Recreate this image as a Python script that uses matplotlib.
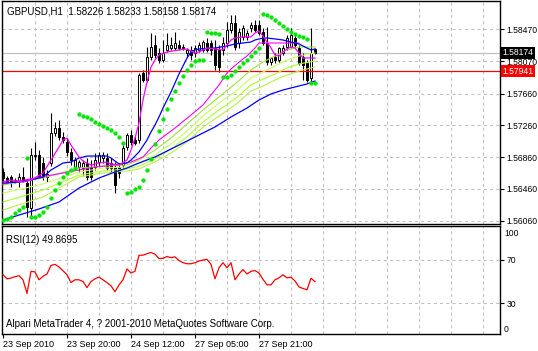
import matplotlib
matplotlib.use("Agg")
import matplotlib.pyplot as plt
import matplotlib.transforms as mtransforms
import numpy as np

plt.rcParams['font.family'] = ['Liberation Sans', 'DejaVu Sans']

# GBPUSD H1 bars (open, high, low, close)
opens = [1.56673, 1.56597, 1.56610, 1.56572, 1.56559, 1.56610, 1.56534, 1.56219, 1.56887, 1.56887,
         1.56786, 1.56610, 1.56786, 1.57164, 1.57227, 1.57114, 1.57051, 1.56925, 1.56736, 1.56736,
         1.56723, 1.56786, 1.56736, 1.56736, 1.56799, 1.56849, 1.56849, 1.56786, 1.56736, 1.56736,
         1.56761, 1.56988, 1.57139, 1.57076, 1.57076, 1.57920, 1.57832, 1.58122, 1.58273, 1.58172,
         1.58084, 1.58210, 1.58235, 1.58235, 1.58273, 1.58248, 1.58172, 1.58210, 1.58172, 1.58210,
         1.58210, 1.58298, 1.58298, 1.58235, 1.58210, 1.58210, 1.58298, 1.58462, 1.58550, 1.58298,
         1.58374, 1.58374, 1.58487, 1.58525, 1.58525, 1.58437, 1.58298, 1.58059, 1.58122, 1.58084,
         1.58172, 1.58248, 1.58248, 1.58361, 1.58235, 1.58122, 1.58046, 1.57857, 1.58226]
highs = [1.56723, 1.56622, 1.56635, 1.56597, 1.56660, 1.56736, 1.56585, 1.56975, 1.57051, 1.56950,
         1.56862, 1.56698, 1.57416, 1.57303, 1.57328, 1.57177, 1.57101, 1.56975, 1.56862, 1.56824,
         1.56824, 1.56849, 1.56824, 1.56912, 1.56925, 1.56925, 1.56912, 1.56849, 1.56799, 1.56786,
         1.57013, 1.57164, 1.57202, 1.57126, 1.57920, 1.57958, 1.58248, 1.58424, 1.58399, 1.58235,
         1.58336, 1.58424, 1.58374, 1.58437, 1.58336, 1.58286, 1.58235, 1.58260, 1.58273, 1.58311,
         1.58336, 1.58361, 1.58336, 1.58336, 1.58273, 1.58374, 1.58563, 1.58651, 1.58651, 1.58487,
         1.58525, 1.58462, 1.58563, 1.58588, 1.58588, 1.58487, 1.58500, 1.58122, 1.58172, 1.58248,
         1.58273, 1.58399, 1.58487, 1.58399, 1.58273, 1.58172, 1.58084, 1.58487, 1.58233]
lows = [1.56547, 1.56534, 1.56484, 1.56534, 1.56484, 1.56547, 1.56106, 1.56106, 1.56824, 1.56597,
        1.56572, 1.56547, 1.56748, 1.57126, 1.57076, 1.57038, 1.56874, 1.56761, 1.56698, 1.56673,
        1.56635, 1.56572, 1.56572, 1.56698, 1.56748, 1.56786, 1.56698, 1.56673, 1.56408, 1.56597,
        1.56723, 1.56950, 1.57013, 1.57013, 1.57038, 1.57807, 1.57807, 1.58084, 1.58109, 1.58046,
        1.58059, 1.58185, 1.58210, 1.58210, 1.58210, 1.58210, 1.58122, 1.58084, 1.58122, 1.58185,
        1.58185, 1.58185, 1.58147, 1.57958, 1.57933, 1.58147, 1.58248, 1.58424, 1.58210, 1.58235,
        1.58336, 1.58336, 1.58437, 1.58437, 1.58399, 1.58273, 1.58021, 1.58021, 1.58046, 1.58059,
        1.58147, 1.58210, 1.58235, 1.58248, 1.58021, 1.57832, 1.57807, 1.57807, 1.58158]
closes = [1.56597, 1.56559, 1.56559, 1.56559, 1.56610, 1.56559, 1.56232, 1.56887, 1.56874, 1.56610,
          1.56610, 1.56648, 1.57164, 1.57227, 1.57114, 1.57076, 1.56925, 1.56824, 1.56824, 1.56799,
          1.56786, 1.56610, 1.56610, 1.56824, 1.56887, 1.56887, 1.56723, 1.56723, 1.56509, 1.56660,
          1.56975, 1.57139, 1.57051, 1.57038, 1.57895, 1.57832, 1.58122, 1.58248, 1.58147, 1.58084,
          1.58172, 1.58273, 1.58273, 1.58298, 1.58235, 1.58235, 1.58210, 1.58147, 1.58235, 1.58273,
          1.58311, 1.58210, 1.58210, 1.58021, 1.57996, 1.58298, 1.58462, 1.58550, 1.58248, 1.58437,
          1.58487, 1.58424, 1.58525, 1.58462, 1.58424, 1.58298, 1.58059, 1.58109, 1.58084, 1.58235,
          1.58235, 1.58361, 1.58399, 1.58273, 1.58046, 1.58021, 1.57832, 1.58172, 1.58174]

# moving averages (bar index, value)
ma_fast_x = [0, 2, 5, 7, 10, 12, 14, 15, 16, 17, 19, 20, 22, 24, 26, 27, 29, 31, 32, 33, 34, 35, 36, 37,
             38, 39, 41, 44, 46, 47, 48, 49, 51, 53, 55, 56, 57, 58, 60, 62, 63, 64, 65, 66, 67, 68,
             69, 70, 71, 72, 73, 74, 75, 76, 77, 78]
ma_fast_y = [1.56547, 1.56572, 1.56547, 1.56572, 1.56660, 1.56824, 1.56988, 1.57076, 1.57101, 1.57013,
             1.56862, 1.56811, 1.56761, 1.56786, 1.56799, 1.56774, 1.56761, 1.56824, 1.56950, 1.57101,
             1.57290, 1.57580, 1.57807, 1.57996, 1.58084, 1.58147, 1.58185, 1.58210, 1.58223, 1.58197,
             1.58172, 1.58185, 1.58235, 1.58223, 1.58210, 1.58273, 1.58336, 1.58361, 1.58374, 1.58374,
             1.58424, 1.58449, 1.58386, 1.58311, 1.58235, 1.58147, 1.58134, 1.58185, 1.58223, 1.58248,
             1.58235, 1.58172, 1.58109, 1.58109, 1.58109, 1.58109]
ma_blue_x = [0, 4, 7, 10, 12, 15, 17, 19, 21, 26, 27, 28, 29, 31, 32, 34, 35, 36, 37, 38, 39, 40, 41,
             42, 43, 44, 45, 46, 47, 48, 49, 53, 56, 58, 60, 62, 63, 65, 66, 68, 70, 71, 73, 74, 75,
             76, 77, 78]
ma_blue_y = [1.56534, 1.56547, 1.56572, 1.56610, 1.56698, 1.56786, 1.56799, 1.56849, 1.56874, 1.56874,
             1.56849, 1.56811, 1.56774, 1.56786, 1.56824, 1.56925, 1.57000, 1.57076, 1.57177, 1.57265,
             1.57366, 1.57479, 1.57580, 1.57681, 1.57794, 1.57908, 1.58008, 1.58109, 1.58185, 1.58210,
             1.58223, 1.58235, 1.58260, 1.58286, 1.58298, 1.58311, 1.58336, 1.58361, 1.58361, 1.58349,
             1.58336, 1.58323, 1.58298, 1.58286, 1.58260, 1.58235, 1.58210, 1.58223]
ma_pink_x = [0, 8, 15, 19, 23, 28, 32, 35, 37, 39, 43, 47, 50, 51, 54, 56, 57, 60, 61, 63, 64, 74]
ma_pink_y = [1.56522, 1.56597, 1.56660, 1.56698, 1.56736, 1.56761, 1.56799, 1.56862, 1.56975, 1.57076,
             1.57227, 1.57391, 1.57517, 1.57580, 1.57769, 1.57920, 1.57971, 1.58097, 1.58134, 1.58235,
             1.58298, 1.58298]
fan_x = [0, 10, 19, 25, 31, 34, 38, 42, 46, 50, 54, 58, 62, 65, 68, 71, 74, 78]
fan1 = [1.56509, 1.56597, 1.56723, 1.56748, 1.56761, 1.56824, 1.56950, 1.57101, 1.57278, 1.57454,
        1.57618, 1.57782, 1.57958, 1.58059, 1.58134, 1.58210, 1.58248, 1.58248]
fan2 = [1.56408, 1.56522, 1.56673, 1.56723, 1.56736, 1.56786, 1.56887, 1.57026, 1.57189, 1.57378,
        1.57542, 1.57681, 1.57857, 1.57933, 1.58008, 1.58084, 1.58134, 1.58172]
fan3 = [1.56295, 1.56446, 1.56635, 1.56686, 1.56711, 1.56748, 1.56837, 1.56963, 1.57114, 1.57303,
        1.57454, 1.57593, 1.57769, 1.57845, 1.57908, 1.57983, 1.58034, 1.58071]
fan4 = [1.56194, 1.56358, 1.56610, 1.56660, 1.56686, 1.56711, 1.56799, 1.56912, 1.57051, 1.57240,
        1.57378, 1.57517, 1.57693, 1.57756, 1.57832, 1.57895, 1.57945, 1.57996]
ma_slow_x = [0, 4, 9, 14, 19, 24, 28, 31, 34, 38, 41, 45, 49, 53, 57, 61, 64, 67, 70, 73, 76, 78]
ma_slow_y = [1.56068, 1.56131, 1.56207, 1.56295, 1.56471, 1.56597, 1.56673, 1.56723, 1.56786, 1.56862,
             1.56937, 1.57038, 1.57139, 1.57240, 1.57366, 1.57479, 1.57580, 1.57656, 1.57706, 1.57744,
             1.57782, 1.57819]

# parabolic SAR, one value per bar
sar = [1.56068, 1.56081, 1.56106, 1.56156, 1.56194, 1.56232, 1.56849, 1.56106, 1.56106, 1.56131,
       1.56169, 1.56232, 1.56345, 1.56446, 1.56534, 1.56610, 1.56660, 1.56698, 1.56723, 1.57404,
       1.57378, 1.57366, 1.57341, 1.57303, 1.57278, 1.57252, 1.57227, 1.57202, 1.57164, 1.57114,
       1.57038, 1.56408, 1.56421, 1.56459, 1.56484, 1.56572, 1.56698, 1.56837, 1.57026, 1.57189,
       1.57341, 1.57467, 1.57593, 1.57693, 1.57794, 1.57882, 1.57958, 1.58021, 1.58071, 1.58084,
       1.58084, 1.58437, 1.58424, 1.58424, 1.58412, 1.57870, 1.57870, 1.57895, 1.57945, 1.57996,
       1.58046, 1.58084, 1.58134, 1.58185, 1.58235, 1.58664, 1.58651, 1.58626, 1.58588, 1.58550,
       1.58512, 1.58475, 1.58437, 1.58412, 1.58386, 1.58374, 1.58349, 1.57794, 1.57794]

# RSI(12), one value per bar
rsi = [56.3, 52.5, 53.2, 54.5, 55.4, 51.6, 38.9, 59.5, 58.9, 51.6, 54.8, 57.0, 65.0, 65.9, 63.5, 60.0,
       56.3, 49.0, 51.6, 51.6, 50.0, 44.3, 50.0, 52.5, 54.1, 51.6, 49.0, 46.0, 40.5, 46.8, 51.6, 61.7,
       57.9, 59.5, 74.4, 74.5, 75.8, 77.0, 75.4, 71.3, 71.6, 73.2, 72.2, 72.9, 69.5, 67.5, 66.5, 66.5,
       67.5, 69.0, 70.0, 70.6, 65.9, 52.5, 62.7, 67.5, 62.7, 67.5, 51.6, 57.0, 61.1, 57.0, 59.5, 60.2,
       57.9, 52.0, 46.9, 46.9, 51.6, 53.4, 56.2, 53.4, 54.0, 50.5, 45.0, 43.5, 42.3, 53.0, 49.87]

price_ticks = [1.56060, 1.56460, 1.56860, 1.57260, 1.57660, 1.58070, 1.58470]
time_ticks = [0, 16, 32, 48, 64]
time_labels = ["23 Sep 2010", "23 Sep 20:00", "24 Sep 12:00", "27 Sep 05:00", "27 Sep 21:00"]
bid_price = 1.58174
line_price = 1.57941

W, H = 538, 351
fig = plt.figure(figsize=(W / 100, H / 100), dpi=100)
fig.patch.set_facecolor("white")


def box(x0, y0, x1, y1):
    return [x0 / W, 1 - y1 / H, (x1 - x0) / W, (y1 - y0) / H]


ax = fig.add_axes(box(2, 1, 500, 224))
ax2 = fig.add_axes(box(2, 226, 500, 334))

grid_kw = dict(color="#c0c0c0", lw=0.75, ls=(0, (3, 3)), zorder=0)
for a in (ax, ax2):
    a.set_xlim(-0.25, 124.25)
    for gx in range(8, 124, 8):
        a.axvline(gx, **grid_kw)
    for s in a.spines.values():
        s.set_color("black")
        s.set_linewidth(1.0)
    a.yaxis.tick_right()
    a.tick_params(axis="y", direction="out", length=3, width=0.8, labelsize=6.2, pad=1.5)

ax.set_ylim(1.56018, 1.58827)
for p in price_ticks:
    ax.axhline(p, **grid_kw)
ax.set_yticks(price_ticks)
ax.set_yticklabels(["%.5f" % p for p in price_ticks])
ax.set_xticks([])

# current bid and the red level
ax.axhline(bid_price, color="#c0c0c0", lw=0.9, zorder=1)
ax.axhline(line_price, color="red", lw=0.9, zorder=2.5)

# candles
idx = np.arange(len(closes))
o = np.array(opens); c = np.array(closes)
ax.vlines(idx, lows, highs, color="black", lw=0.8, zorder=2)
up = c >= o
ax.bar(idx[up], (c - o)[up], bottom=o[up], width=0.55, facecolor="white",
       edgecolor="black", linewidth=0.7, zorder=2.2)
ax.bar(idx[~up], (o - c)[~up], bottom=c[~up], width=0.55, facecolor="black",
       edgecolor="black", linewidth=0.7, zorder=2.2)

# indicators
for ys, col in zip([fan4, fan3, fan2, fan1], ["#b6f04a", "#adff2f", "#c8ff5a", "#9be33c"]):
    ax.plot(fan_x, ys, color=col, lw=0.8, zorder=3)
ax.plot(ma_slow_x, ma_slow_y, color="#0000ff", lw=0.9, zorder=3)
ax.plot(ma_pink_x, ma_pink_y, color="#ff00ff", lw=0.8, zorder=3)
ax.plot(ma_blue_x, ma_blue_y, color="#0000ff", lw=0.9, zorder=3)
ax.plot(ma_fast_x, ma_fast_y, color="#ff00ff", lw=0.9, zorder=3.2)
ax.plot(idx, sar, ls="none", marker="o", ms=2.7, mfc="#00e600", mec="#00e600", mew=0.3, zorder=4)

trans = mtransforms.blended_transform_factory(ax.transAxes, ax.transData)
ax.text(1.005, bid_price, "1.58174", transform=trans, color="white", fontsize=6.2,
        va="center", ha="left", bbox=dict(fc="black", ec="none", pad=1.2), zorder=10, clip_on=False)
ax.text(1.005, line_price, "1.57941", transform=trans, color="white", fontsize=6.2,
        va="center", ha="left", bbox=dict(fc="red", ec="none", pad=1.2), zorder=10, clip_on=False)

fig.text(7 / W, 1 - 11 / H, "GBPUSD,H1  1.58226 1.58233 1.58158 1.58174", fontsize=7, va="center")

# RSI window
ax2.set_ylim(1.2, 101.6)
for lv in (30, 70):
    ax2.axhline(lv, **grid_kw)
ax2.plot(idx, rsi, color="red", lw=0.9, zorder=3)
ax2.set_yticks([30, 70])
ax2.set_yticklabels(["30", "70"])
ax2.text(1.008, 0.93, "100", transform=ax2.transAxes, fontsize=6.2, va="center")
ax2.text(1.008, 0.04, "0", transform=ax2.transAxes, fontsize=6.2, va="center")
ax2.set_xticks(time_ticks)
ax2.set_xticklabels(time_labels, ha="left")
ax2.tick_params(axis="x", direction="out", length=3, width=0.8, labelsize=6.5, pad=1)
ax2.text(4 / 498, 0.87, "RSI(12) 49.8695", transform=ax2.transAxes, fontsize=7, va="center")
ax2.text(4 / 498, 0.09, "Alpari MetaTrader 4, ? 2001-2010 MetaQuotes Software Corp.",
         transform=ax2.transAxes, fontsize=7, va="center")

fig.savefig("out.png", dpi=100)
